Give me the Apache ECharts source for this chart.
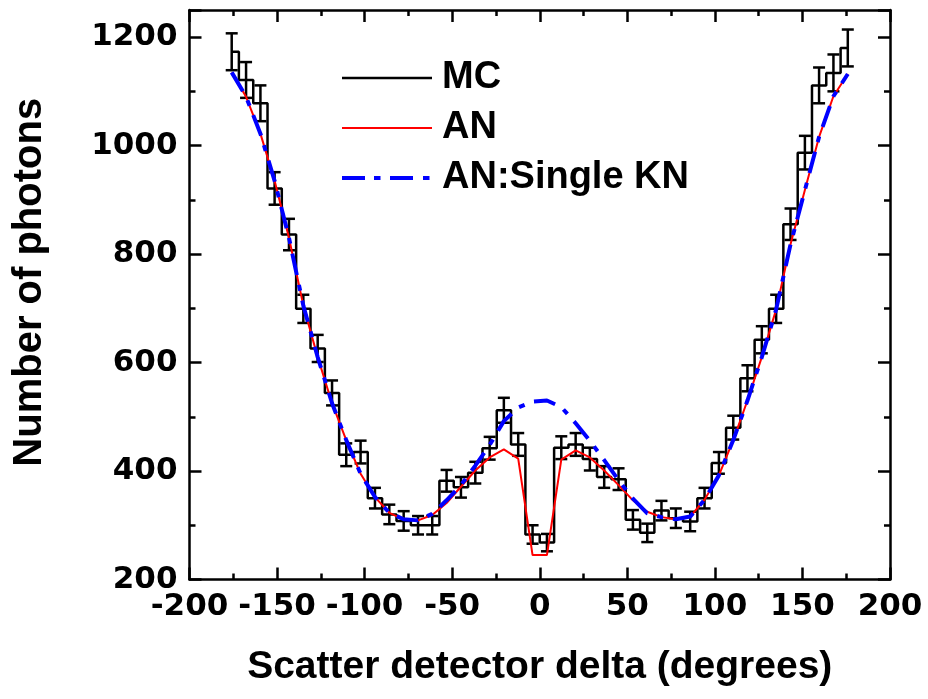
<!DOCTYPE html>
<html>
<head>
<meta charset="utf-8">
<script src="https://cdn.jsdelivr.net/npm/echarts@6/dist/echarts.min.js"></script>
<style>
html,body{margin:0;padding:0;background:#fff;}
#c{width:928px;height:699px;}
</style>
</head>
<body>
<div id="c"></div>
<script>
const xCenters = [-175.9,-167.7,-159.5,-151.4,-143.2,-135.0,-126.8,-118.6,-110.5,-102.3,-94.1,-85.9,-77.7,-69.5,-61.4,-53.2,-45.0,-36.8,-28.6,-20.5,-12.3,-4.1,4.1,12.3,20.5,28.6,36.8,45.0,53.2,61.4,69.5,77.7,85.9,94.1,102.3,110.5,118.6,126.8,135.0,143.2,151.4,159.5,167.7,175.9];
const mcValues = [1173,1121,1078,921,836,699,626,544,430,435,350,320,308,300,300,382,370,397,442,512,449,283,268,443,449,422,389,385,310,286,327,313,307,350,415,480,571,642,699,855,987,1111,1134,1180];
const mcErrors = [34,33,33,30,29,26,25,23,21,21,19,18,18,17,17,20,19,20,21,23,21,17,16,21,21,21,20,20,18,17,18,18,18,19,20,22,24,25,26,29,31,33,34,34];
const anValues = [1135,1090,1022,935,830,705,610,525,457,395,352,323,311,309,319,341,371,401,425,440,423,245,245,421,438,425,401,374,346,325,315,311,316,347,392,457,530,610,698,818,918,1016,1091,1132];
const knValues = [1135,1090,1022,935,830,705,610,525,457,395,352,323,311,309,321,346,374,410,448,492,517,528,530,518,488,456,420,383,349,322,315,311,316,347,392,457,530,610,698,818,918,1016,1091,1132];
const xTicks = {min:-200, max:200, interval:50};
const yTicks = {min:200, max:1250, interval:200};
const seriesNames = ['MC','AN','AN:Single KN'];

const FONT = 'Liberation Sans, Arial, sans-serif';
const TICKFONT = 'DejaVu Sans, sans-serif';
const pair = (vals) => xCenters.map((x,i)=>[x, vals[i]]);
const errData = xCenters.map((x,i)=>[x, mcValues[i], mcErrors[i]]);

const axisCommon = {
  axisLine:{show:true, onZero:false, lineStyle:{color:'#000', width:2.5}},
  axisTick:{show:true, inside:true, length:12, lineStyle:{color:'#000', width:2.5}},
  minorTick:{show:true, splitNumber:2, length:6, lineStyle:{color:'#000', width:2.5}},
  splitLine:{show:false},
  minorSplitLine:{show:false}
};

// legend glyphs (bounding box 90x4, tiny corner specks keep the box size)
const specks = ' M0,0h0.01v0.01h-0.01z M89.99,3.99h0.01v0.01h-0.01z';
const iconMC = 'path://M0,0.75h90v2.5h-90z' + specks;
const iconAN = 'path://M0,1h90v2h-90z' + specks;
const iconKN = 'path://M0,0h23v4h-23z M32,0h6.5v4h-6.5z M48,0h23v4h-23z M81,0h6.5v4h-6.5z' + specks;

const chart = echarts.init(document.getElementById('c'), null, {renderer:'canvas'});
chart.setOption({
  animation:false,
  backgroundColor:'#fff',
  grid:{left:189.5, right:38, top:10, bottom:119.5, containLabel:false},
  legend:{
    show:true, orient:'vertical', left:342, top:59, padding:0,
    itemWidth:90, itemHeight:4, itemGap:12,
    data:[{name:seriesNames[0], icon:iconMC},{name:seriesNames[1], icon:iconAN},{name:seriesNames[2], icon:iconKN}],
    textStyle:{fontFamily:FONT, fontWeight:'bold', fontSize:38, color:'#000', padding:[0,0,0,5], lineHeight:38}
  },
  xAxis:[
    Object.assign({type:'value', position:'bottom', min:xTicks.min, max:xTicks.max, interval:xTicks.interval,
      name:'Scatter detector delta (degrees)', nameLocation:'middle', nameGap:68,
      nameTextStyle:{fontFamily:FONT, fontWeight:'bold', fontSize:39, color:'#000'},
      axisLabel:{show:true, margin:12, fontFamily:TICKFONT, fontWeight:'bold', fontSize:31, color:'#000'}}, axisCommon),
    Object.assign({type:'value', position:'top', min:xTicks.min, max:xTicks.max, interval:xTicks.interval,
      axisLabel:{show:false}}, axisCommon)
  ],
  yAxis:[
    Object.assign({type:'value', position:'left', min:yTicks.min, max:yTicks.max, interval:yTicks.interval,
      name:'Number of photons', nameLocation:'middle', nameGap:140, nameRotate:90,
      nameTextStyle:{fontFamily:FONT, fontWeight:'bold', fontSize:40, color:'#000', padding:[0,0,0,25]},
      axisLabel:{show:true, margin:12, showMaxLabel:false, formatter:(v)=>String(v), fontFamily:TICKFONT, fontWeight:'bold', fontSize:31, color:'#000'}}, axisCommon),
    Object.assign({type:'value', position:'right', min:yTicks.min, max:yTicks.max, interval:yTicks.interval,
      axisLabel:{show:false}}, axisCommon)
  ],
  series:[
    {
      name:seriesNames[0], type:'line', step:'middle', data:pair(mcValues),
      symbol:'none', lineStyle:{color:'#000', width:2.5}, itemStyle:{color:'#000'}, z:2
    },
    {
      type:'custom', data:errData, z:2,
      encode:{x:0, y:1},
      renderItem:function(params, api){
        const x = api.value(0), y = api.value(1), e = api.value(2);
        const top = api.coord([x, y+e]);
        const bot = api.coord([x, y-e]);
        const hw = 6;
        const st = {stroke:'#000', lineWidth:2.5};
        return {type:'group', children:[
          {type:'line', shape:{x1:top[0], y1:top[1], x2:bot[0], y2:bot[1]}, style:st},
          {type:'line', shape:{x1:top[0]-hw, y1:top[1], x2:top[0]+hw, y2:top[1]}, style:st},
          {type:'line', shape:{x1:bot[0]-hw, y1:bot[1], x2:bot[0]+hw, y2:bot[1]}, style:st}
        ]};
      }
    },
    {
      name:seriesNames[1], type:'line', data:pair(anValues),
      symbol:'none', lineStyle:{color:'#ff0000', width:2}, itemStyle:{color:'#ff0000'}, z:3
    },
    {
      name:seriesNames[2], type:'line', data:pair(knValues),
      symbol:'none', lineStyle:{color:'#0000ff', width:4, type:[22,10,6,10]}, itemStyle:{color:'#0000ff'}, z:4
    }
  ]
});
</script>
</body>
</html>
